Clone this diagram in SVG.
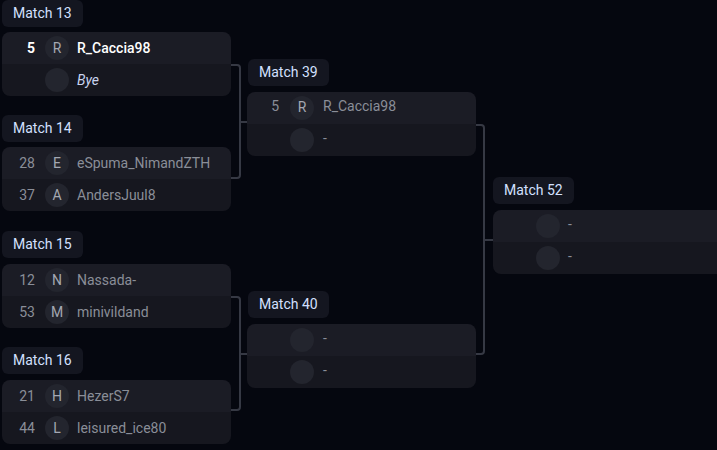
<svg xmlns="http://www.w3.org/2000/svg" width="717" height="450" viewBox="0 0 717 450">
<style>
text{font-family:Roboto,"Liberation Sans",sans-serif;font-size:14px}
.lb{fill:#141620}.lt{fill:#d3e0ff}
.r1{fill:#1b1c25}.r2{fill:#16171f}
.av{fill:#23252e}.at{fill:#a4a8b2;text-anchor:middle}
.sd{fill:#8a8e98;text-anchor:end}.nm{fill:#8a8e98}
.w{fill:#ffffff}
.c{fill:none;stroke:#363944;stroke-width:2}
</style>
<rect width="717" height="450" fill="#05070f"/>
<defs>
<clipPath id="cp"><rect width="229" height="64" rx="8"/></clipPath>
<clipPath id="cp2"><rect width="240" height="64" rx="8"/></clipPath>
<g id="card"><g clip-path="url(#cp)"><rect width="229" height="32" class="r1"/><rect y="32" width="229" height="32" class="r2"/></g><circle cx="55" cy="16" r="12" class="av"/><circle cx="55" cy="48" r="12" class="av"/></g>
</defs>
<g id="connectors">
<path class="c" d="M231 65H237a3 3 0 0 1 3 3V175a3 3 0 0 1-3 3H231M240 122H248"/>
<path class="c" d="M231 297H237a3 3 0 0 1 3 3V407a3 3 0 0 1-3 3H231M240 354H248"/>
<path class="c" d="M475 125H481a3 3 0 0 1 3 3V351a3 3 0 0 1-3 3H475M484 240H493"/>
</g>
<g id="m13"><rect x="2" y="0" width="81" height="27" rx="6" class="lb"/><text x="13" y="18" class="lt">Match 13</text>
<use href="#card" x="2" y="32"/><text x="35" y="53" class="sd w" font-weight="bold">5</text><text x="57" y="53" class="at">R</text><text x="77" y="53" class="w" font-weight="500">R_Caccia98</text><text x="77" y="85" fill="#c8d4f0" font-style="italic">Bye</text></g>
<g id="m14"><rect x="2" y="115" width="81" height="27" rx="6" class="lb"/><text x="13" y="133" class="lt">Match 14</text>
<use href="#card" x="2" y="147"/><text x="35" y="168" class="sd">28</text><text x="57" y="168" class="at">E</text><text x="77" y="168" class="nm">eSpuma_NimandZTH</text><text x="35" y="200" class="sd">37</text><text x="57" y="200" class="at">A</text><text x="77" y="200" class="nm">AndersJuul8</text></g>
<g id="m15"><rect x="2" y="231" width="81" height="27" rx="6" class="lb"/><text x="13" y="249" class="lt">Match 15</text>
<use href="#card" x="2" y="264"/><text x="35" y="285" class="sd">12</text><text x="57" y="285" class="at">N</text><text x="77" y="285" class="nm">Nassada-</text><text x="35" y="317" class="sd">53</text><text x="57" y="317" class="at">M</text><text x="77" y="317" class="nm">minivildand</text></g>
<g id="m16"><rect x="2" y="347" width="81" height="27" rx="6" class="lb"/><text x="13" y="365" class="lt">Match 16</text>
<use href="#card" x="2" y="380"/><text x="35" y="401" class="sd">21</text><text x="57" y="401" class="at">H</text><text x="77" y="401" class="nm">HezerS7</text><text x="35" y="433" class="sd">44</text><text x="57" y="433" class="at">L</text><text x="77" y="433" class="nm">leisured_ice80</text></g>
<g id="m39"><rect x="248" y="59" width="81" height="27" rx="6" class="lb"/><text x="259" y="77" class="lt">Match 39</text>
<use href="#card" x="247" y="92"/><text x="279" y="111" class="sd">5</text><text x="302" y="112" class="at">R</text><text x="323" y="111" class="nm">R_Caccia98</text><text x="323" y="143" class="nm">-</text></g>
<g id="m40"><rect x="248" y="291" width="81" height="27" rx="6" class="lb"/><text x="259" y="309" class="lt">Match 40</text>
<use href="#card" x="247" y="324"/><text x="323" y="343" class="nm">-</text><text x="323" y="375" class="nm">-</text></g>
<g id="m52"><rect x="493" y="177" width="81" height="27" rx="6" class="lb"/><text x="504" y="195" class="lt">Match 52</text>
<g transform="translate(493 210)"><g clip-path="url(#cp2)"><rect width="240" height="32" class="r1"/><rect y="32" width="240" height="32" class="r2"/></g></g>
<circle cx="548" cy="226" r="12" class="av"/><circle cx="548" cy="258" r="12" class="av"/><text x="568" y="229" class="nm">-</text><text x="568" y="261" class="nm">-</text></g>
</svg>
